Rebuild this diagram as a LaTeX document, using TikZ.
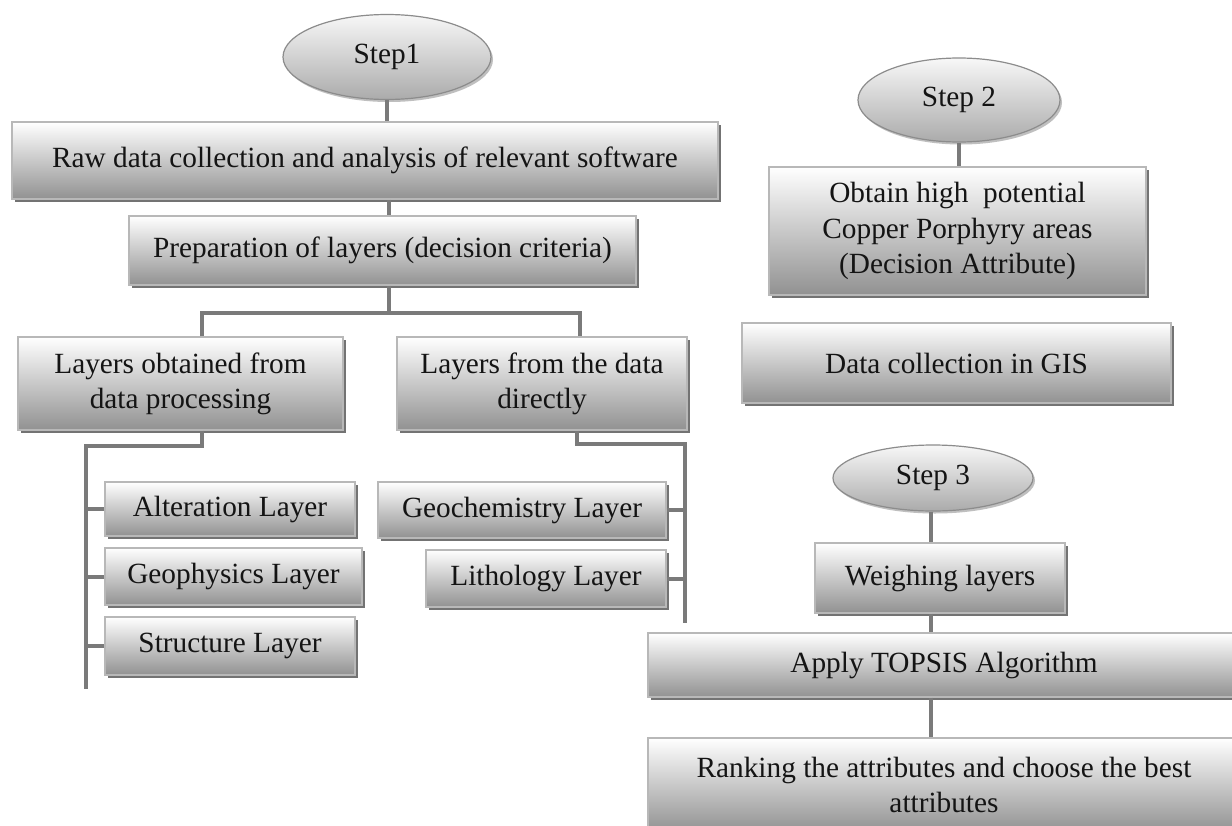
\documentclass[tikz,border=0pt]{standalone}
\usepackage{fontspec}
\setmainfont{Liberation Serif}
\usetikzlibrary{shapes.geometric,shadows}
\tikzset{
  txt/.style={font=\fontsize{29.3}{35.2}\selectfont, text=black!92, align=center, inner sep=0pt},
  box/.style={txt, rectangle, draw=black!28, line width=1.2pt, top color=white, bottom color=black!43,
    drop shadow={shadow xshift=2.5pt, shadow yshift=-2.5pt, opacity=1, fill=black!55}},
  oval/.style={txt, ellipse, draw=black!45, line width=1.2pt, top color=black!3, bottom color=black!33,
    drop shadow={shadow xshift=2pt, shadow yshift=-2.5pt, opacity=1, fill=black!25}},
  link/.style={draw=black!52, line width=4pt},
}
\begin{document}
\begin{tikzpicture}[x=1pt,y=-1pt]
\useasboundingbox (0,0) rectangle (1232,825);
\path[clip] (0,0) rectangle (1232,825);
\fill[white] (0,0) rectangle (1232,825);

% Step 1
\node[oval, minimum width=208pt, minimum height=85pt] (s1) at (387,57) {Step1};
\node[box, minimum width=706pt, minimum height=77pt] (raw) at (365,160.5) {Raw data collection and analysis of relevant software};
\node[box, minimum width=507pt, minimum height=69pt] (prep) at (382.5,250.5) {Preparation of layers (decision criteria)};
\node[box, minimum width=325pt, minimum height=93pt] (lbox) at (180.5,383.5) {Layers obtained from\\data processing};
\node[box, minimum width=290pt, minimum height=93pt] (rbox) at (542,383.5) {Layers from the data\\directly};
\node[box, minimum width=250pt, minimum height=54pt] (alt) at (230,509) {Alteration Layer};
\node[box, minimum width=257pt, minimum height=57pt] (geo) at (233.5,576.5) {Geophysics Layer};
\node[box, minimum width=250pt, minimum height=58pt] (str) at (230,646) {Structure Layer};
\node[box, minimum width=288pt, minimum height=56pt] (gch) at (522,510) {Geochemistry Layer};
\node[box, minimum width=240pt, minimum height=57pt] (lit) at (546,578.5) {Lithology Layer};

% Step 2
\node[oval, minimum width=202pt, minimum height=84pt] (s2) at (959,100) {Step 2};
\node[box, minimum width=377pt, minimum height=128pt] (obt) at (957.5,231) {Obtain high\ \ potential\\Copper Porphyry areas\\(Decision Attribute)};
\node[box, minimum width=429pt, minimum height=80pt] (gis) at (956.5,363) {Data collection in GIS};

% Step 3
\node[oval, minimum width=200pt, minimum height=66pt] (s3) at (933,478) {Step 3};
\node[box, minimum width=250pt, minimum height=70pt] (wgh) at (940,578) {Weighing layers};
\node[box, minimum width=592pt, minimum height=64pt] (app) at (944,665) {Apply TOPSIS Algorithm};
\node[box, minimum width=592pt, minimum height=94pt] (rnk) at (944,785) {Ranking the attributes and choose the best\\attributes};

% bus coordinates
\coordinate (jx) at (389,0);
\coordinate (hbus) at (389,313);
\coordinate (lx) at (202,0);
\coordinate (rx) at (580,0);
\coordinate (rx2) at (577,0);
\coordinate (lbus) at (86,446);
\coordinate (lend) at (86,689);
\coordinate (rbus) at (685,444);
\coordinate (rend) at (685,623);
\coordinate (jx3) at (931,0);

% connectors step 1
\draw[link] (s1.south) -- (s1.south |- raw.north);
\draw[link] (jx |- raw.south) -- (jx |- prep.north);
\draw[link] (jx |- prep.south) -- (hbus);
\draw[link] (lx |- lbox.north) -- (lx |- hbus) -- (rx |- hbus) -- (rx |- rbox.north);
\draw[link] (lx |- lbox.south) -- (lx |- lbus) -- (lbus) -- (lend);
\draw[link] (rx2 |- rbox.south) -- (rx2 |- rbus) -- (rbus) -- (rend);
\draw[link] (alt.west) -- (alt.west -| lbus);
\draw[link] (geo.west) -- (geo.west -| lbus);
\draw[link] (str.west) -- (str.west -| lbus);
\draw[link] (gch.east) -- (gch.east -| rbus);
\draw[link] (lit.east) -- (lit.east -| rbus);

% connectors step 2
\draw[link] (s2.south) -- (obt.north -| s2.south);

% connectors step 3
\draw[link] (jx3 |- s3.south) -- (jx3 |- wgh.north);
\draw[link] (jx3 |- wgh.south) -- (jx3 |- app.north);
\draw[link] (jx3 |- app.south) -- (jx3 |- rnk.north);
\end{tikzpicture}
\end{document}
